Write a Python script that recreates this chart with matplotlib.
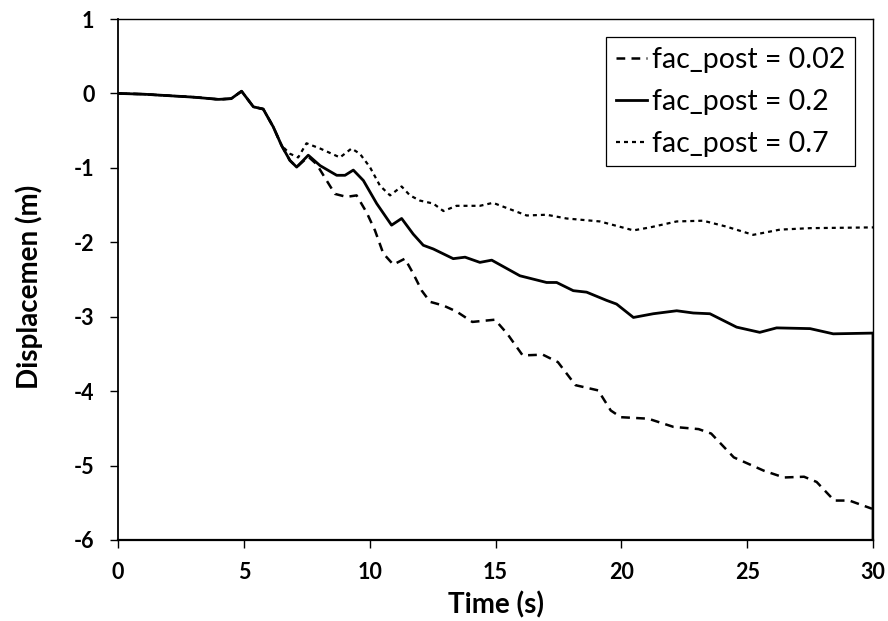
import matplotlib
matplotlib.use("Agg")
import matplotlib.pyplot as plt

# ---- data ----
t_002 = [0, 1, 2, 3, 4, 4.5, 4.91, 5.38, 5.77, 6.17, 6.5, 6.83, 7.1, 7.56, 7.89, 8.29,
         8.62, 9.08, 9.48, 9.88, 10.21, 10.54, 10.94, 11.4, 11.73, 12.07, 12.4, 12.93,
         13.45, 14.08, 14.98, 15.47, 16.08, 16.88, 17.48, 18.18, 19.08, 19.58, 19.98,
         21.07, 22.07, 23.07, 23.57, 24.47, 25.07, 25.67, 26.46, 27.26, 27.76, 28.46,
         29.06, 29.96]
y_002 = [0, -0.01, -0.03, -0.05, -0.08, -0.07, 0.03, -0.18, -0.21, -0.45, -0.70, -0.90,
         -0.99, -0.85, -0.95, -1.17, -1.35, -1.39, -1.37, -1.60, -1.84, -2.15, -2.30,
         -2.22, -2.42, -2.65, -2.80, -2.85, -2.93, -3.07, -3.04, -3.23, -3.52, -3.51,
         -3.61, -3.92, -3.99, -4.26, -4.35, -4.37, -4.48, -4.51, -4.57, -4.89, -4.98,
         -5.07, -5.16, -5.15, -5.22, -5.47, -5.47, -5.58]

t_02 = [0, 1, 2, 3, 4, 4.5, 4.91, 5.38, 5.77, 6.17, 6.5, 6.83, 7.1, 7.56, 8.03, 8.69,
        9.02, 9.35, 9.75, 10.28, 10.87, 11.27, 11.73, 12.13, 12.53, 13.32, 13.79, 14.38,
        14.85, 15.97, 17.03, 17.43, 18.09, 18.62, 19.41, 19.81, 20.48, 21.27, 22.2,
        22.86, 23.52, 24.58, 25.5, 26.17, 27.5, 28.42, 30, 30]
y_02 = [0, -0.01, -0.03, -0.05, -0.08, -0.07, 0.03, -0.18, -0.21, -0.45, -0.70, -0.90,
        -0.99, -0.83, -0.97, -1.10, -1.10, -1.03, -1.17, -1.48, -1.77, -1.68, -1.89,
        -2.04, -2.09, -2.22, -2.20, -2.27, -2.24, -2.45, -2.54, -2.54, -2.65, -2.67,
        -2.78, -2.83, -3.01, -2.96, -2.92, -2.95, -2.96, -3.14, -3.21, -3.15, -3.16,
        -3.23, -3.22, -6.5]

t_07 = [0, 1, 2, 3, 4, 4.5, 4.91, 5.38, 5.77, 6.17, 6.5, 6.83, 7.16, 7.49, 8.03, 8.82,
        9.28, 9.61, 10.01, 10.41, 10.81, 11.27, 11.6, 12.0, 12.53, 12.93, 13.45, 14.38,
        14.9, 16.24, 17.03, 17.82, 19.15, 20.48, 21.14, 22.2, 23.25, 24.18, 25.24, 26.3,
        27.5, 30]
y_07 = [0, -0.01, -0.03, -0.05, -0.08, -0.07, 0.03, -0.18, -0.21, -0.45, -0.70, -0.81,
        -0.86, -0.67, -0.74, -0.86, -0.74, -0.81, -0.99, -1.24, -1.37, -1.25, -1.37,
        -1.44, -1.48, -1.58, -1.51, -1.51, -1.47, -1.64, -1.63, -1.68, -1.72, -1.84,
        -1.80, -1.72, -1.71, -1.79, -1.90, -1.83, -1.81, -1.80]

labels = ["fac_post = 0.02", "fac_post = 0.2", "fac_post = 0.7"]
x_ticks = [0, 5, 10, 15, 20, 25, 30]
y_ticks = [1, 0, -1, -2, -3, -4, -5, -6]

# ---- figure ----
fig = plt.figure(figsize=(8.88, 6.21), dpi=100)
ax = fig.add_axes([118 / 888, 81 / 621, 755 / 888, 521 / 621])

ax.plot(t_002, y_002, color="black", lw=1.8, linestyle=(0, (3.5, 2.5)), label=labels[0])
ax.plot(t_02, y_02, color="black", lw=2.0, linestyle="-", label=labels[1])
ax.plot(t_07, y_07, color="black", lw=1.6, linestyle=(0, (1.8, 1.8)), label=labels[2])

ax.set_xlim(0, 30)
ax.set_ylim(-6, 1)
ax.set_xticks(x_ticks)
ax.set_yticks(y_ticks)

tick_font = dict(family="Lato", weight="bold", size=15.5)
ax.set_xticklabels([str(v) for v in x_ticks], fontdict=tick_font)
ax.set_yticklabels([str(v) for v in y_ticks], fontdict=tick_font)
ax.tick_params(direction="out", length=6, width=1, colors="black")
ax.tick_params(axis="x", pad=10)
ax.tick_params(axis="y", pad=11)

for s in ax.spines.values():
    s.set_color("black")
    s.set_linewidth(1.0)
ax.spines["left"].set_linewidth(1.3)
ax.spines["bottom"].set_linewidth(1.6)

ax.set_xlabel("Time (s)", family="Lato", weight="bold", size=20)
ax.set_ylabel("Displacemen (m)", family="Lato", weight="bold", size=20)
ax.xaxis.set_label_coords(0.5, -0.098)
ax.yaxis.set_label_coords(-0.099, 0.486)

leg = ax.legend(loc="upper right", bbox_to_anchor=(0.976, 0.965), borderaxespad=0,
                prop=dict(family="Lato", size=20.5), handlelength=1.1, handletextpad=0.15,
                labelspacing=0.55, borderpad=0.35, fancybox=False, framealpha=1,
                edgecolor="black")
leg.get_frame().set_linewidth(0.9)

fig.savefig("out.png", dpi=100, facecolor="white")
